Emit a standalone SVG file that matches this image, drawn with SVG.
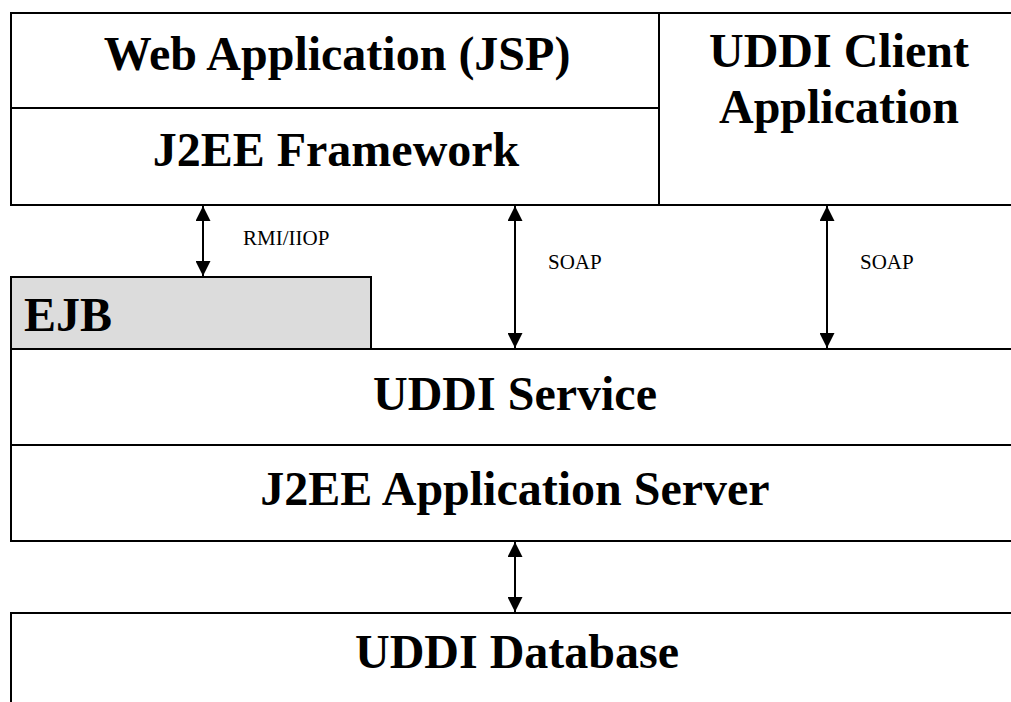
<svg xmlns="http://www.w3.org/2000/svg" width="1011" height="702" viewBox="0 0 1011 702">
<style>
.box{fill:#fff;stroke:#000;stroke-width:2}
.ejb{fill:#dcdcdc;stroke:#000;stroke-width:2}
.big{font-family:"Liberation Serif","Times New Roman",serif;font-weight:bold;font-size:48px;fill:#000}
.lbl{font-family:"Liberation Serif","Times New Roman",serif;font-size:21px;fill:#000}
.conn{stroke:#000;stroke-width:2;fill:none;marker-start:url(#ah);marker-end:url(#ah)}
</style>
<defs>
<marker id="ah" viewBox="0 0 15 15" refX="15" refY="7.5" markerWidth="15" markerHeight="15" markerUnits="userSpaceOnUse" orient="auto-start-reverse">
<path d="M0,0 L15,7.5 L0,15 Z" fill="#000"/>
</marker>
</defs>
<rect width="1011" height="702" fill="#fff"/>
<g id="web-app">
<rect class="box" x="11" y="13" width="648" height="95"/>
<text class="big" x="337" y="70" text-anchor="middle">Web Application (JSP)</text>
</g>
<g id="j2ee-framework">
<rect class="box" x="11" y="108" width="648" height="97"/>
<text class="big" x="336" y="166" text-anchor="middle">J2EE Framework</text>
</g>
<g id="uddi-client">
<rect class="box" x="659" y="13" width="360" height="192"/>
<text class="big" x="839" y="67" text-anchor="middle">UDDI Client</text>
<text class="big" x="839" y="123" text-anchor="middle">Application</text>
</g>
<g id="ejb">
<rect class="ejb" x="11" y="277" width="360" height="72"/>
<text class="big" x="24" y="331">EJB</text>
</g>
<g id="uddi-service">
<rect class="box" x="11" y="349" width="1008" height="96"/>
<text class="big" x="515" y="410" text-anchor="middle">UDDI Service</text>
</g>
<g id="j2ee-server">
<rect class="box" x="11" y="445" width="1008" height="96"/>
<text class="big" x="515" y="505" text-anchor="middle">J2EE Application Server</text>
</g>
<g id="uddi-database">
<rect class="box" x="11" y="613" width="1008" height="100"/>
<text class="big" x="517" y="668" text-anchor="middle">UDDI Database</text>
</g>
<g id="connectors">
<line class="conn" x1="203" y1="206" x2="203" y2="276"/>
<text class="lbl" x="243" y="245">RMI/IIOP</text>
<line class="conn" x1="515" y1="206" x2="515" y2="348"/>
<text class="lbl" x="548" y="269">SOAP</text>
<line class="conn" x1="827" y1="206" x2="827" y2="348"/>
<text class="lbl" x="860" y="269">SOAP</text>
<line class="conn" x1="515" y1="542" x2="515" y2="612"/>
</g>
</svg>
